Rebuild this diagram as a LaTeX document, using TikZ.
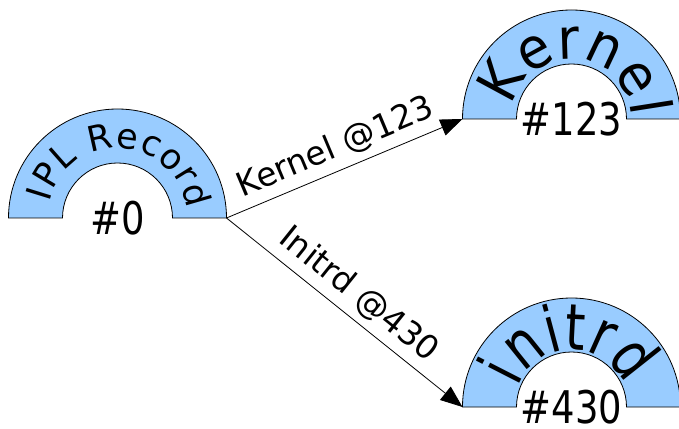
\documentclass[tikz,border=0pt]{standalone}
\usepackage{fontspec}
\setmainfont{DejaVu Sans}
\newfontfamily\lblfont[FakeStretch=0.82]{DejaVu Sans}
\newfontfamily\kernfont[FakeStretch=0.92]{DejaVu Sans}
\newfontfamily\initfont[FakeStretch=0.8]{DejaVu Sans}
\usetikzlibrary{arrows.meta,decorations.text,calc}
\definecolor{archblue}{HTML}{99CCFF}
\newcommand\drawarch[1]{%
  \draw[arch] ($(#1)+(-109,0)$) arc[start angle=180,end angle=0,radius=109pt]
    -- ($(#1)+(55,0)$) arc[start angle=0,end angle=180,radius=55pt] -- cycle;}
\begin{document}
\begin{tikzpicture}[x=1pt,y=1pt,
  arch/.style={fill=archblue,draw=black,line width=0.8pt},
  numlabel/.style={font=\lblfont\fontsize{45}{54}\selectfont,inner sep=0pt},
  conn/.style={line width=0.8pt,-{Triangle[length=22pt,width=17pt]}},
  connlabel/.style={font=\fontsize{33}{40}\selectfont,inner sep=0pt,sloped,above=7pt,midway}
]
\useasboundingbox (0,0) rectangle (679,428);
\coordinate (A) at (117.5,210);
\coordinate (B) at (571.5,309);
\coordinate (C) at (571.5,21);
\coordinate (Aright) at (226.5,210);
\coordinate (Bleft) at (462.5,309);
\coordinate (Cleft) at (462.5,21);
\drawarch{A}
\drawarch{B}
\drawarch{C}
\path[decorate,decoration={text along path,
   text={|\fontsize{35}{42}\selectfont|IPL Record},text align={fit to path}}]
  ($(A)+(167:70pt)$) arc[start angle=167,end angle=7,radius=70pt];
\path[decorate,decoration={text along path,
   text={|\kernfont\fontsize{57}{68}\selectfont|Kernel},text align={fit to path}}]
  ($(B)+(168:60pt)$) arc[start angle=168,end angle=2,radius=60pt];
\path[decorate,decoration={text along path,
   text={|\initfont\fontsize{64}{76}\selectfont|initrd},text align={fit to path}}]
  ($(C)+(160:57pt)$) arc[start angle=160,end angle=22,radius=57pt];
\node[numlabel] (n0) at (A) {\#0};
\node[numlabel] (n123) at (B) {\#123};
\node[numlabel] (n430) at (C) {\#430};
\draw[conn] (Aright) -- node[connlabel] (l1) {Kernel @123} (Bleft);
\draw[conn] (Aright) -- node[connlabel] (l2) {Initrd @430} (Cleft);
\end{tikzpicture}
\end{document}
